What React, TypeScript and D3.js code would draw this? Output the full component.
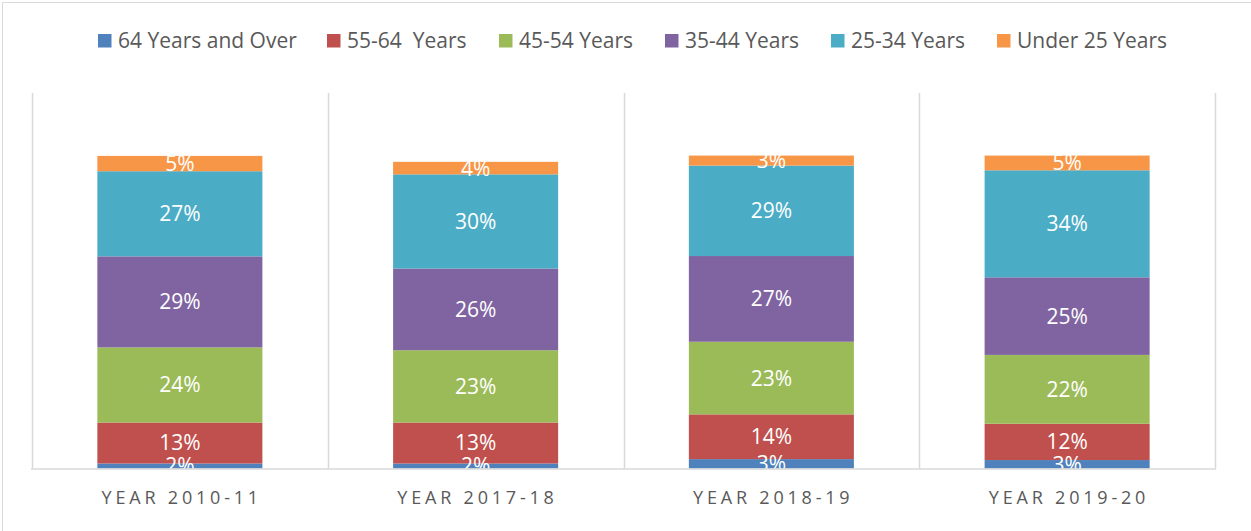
import React from "react";
import * as d3 from "d3";

const categories = ["YEAR 2010-11", "YEAR 2017-18", "YEAR 2018-19", "YEAR 2019-20"];
const seriesNames = ["64 Years and Over", "55-64  Years", "45-54 Years", "35-44 Years", "25-34 Years", "Under 25 Years"];
const seriesColors = ["#4F81BD", "#C0504D", "#9BBB59", "#8064A2", "#4BACC6", "#F79646"];
const over64 = [1.6, 1.6, 3.0, 2.7];
const age55to64 = [13.1, 13.1, 14.3, 11.6];
const age45to54 = [24.0, 23.1, 23.2, 22.0];
const age35to44 = [29.1, 26.1, 27.4, 24.8];
const age25to34 = [27.2, 30.1, 28.9, 34.2];
const under25 = [4.9, 4.0, 3.2, 4.7];
const seriesValues = [over64, age55to64, age45to54, age35to44, age25to34, under25];
const legendX = [98, 327, 499, 665, 831, 997];

const W = 1251;
const H = 531;
const FONT = "'Open Sans', sans-serif";

export default function App() {
  const x = d3.scaleBand<string>().domain(categories).range([32, 1215]).paddingInner(0.442).paddingOuter(0.221);
  const xCat = d3.scaleBand<string>().domain(categories).range([32, 1215]).padding(0);
  const y = d3.scaleLinear().domain([0, 120]).range([468.5, 93]);

  const rows = categories.map((c, i) => {
    const o: any = { cat: c };
    seriesNames.forEach((s, j) => (o[s] = seriesValues[j][i]));
    return o;
  });
  const stacked = d3.stack<any>().keys(seriesNames)(rows);

  const separators = categories.map((c) => xCat(c)!).concat([xCat.range()[1]]);

  return (
    <svg width={W} height={H} style={{ position: "absolute", left: 0, top: 0, background: "#fff" }}>
      <rect x={2.5} y={2.5} width={W + 5} height={H + 5} fill="#fff" stroke="#D9D9D9" strokeWidth={1} />
      {/* legend */}
      {seriesNames.map((s, j) => (
        <g key={s}>
          <rect x={legendX[j]} y={34} width={13.5} height={13.5} fill={seriesColors[j]} />
          <text x={legendX[j] + 20} y={47.5} fontFamily={FONT} fontSize={21} fill="#595959" style={{ whiteSpace: "pre" }}>
            {s}
          </text>
        </g>
      ))}
      {/* category separators */}
      {separators.map((sx, i) => (
        <line key={i} x1={Math.round(sx) + 0.5} x2={Math.round(sx) + 0.5} y1={93} y2={469} stroke="#D9D9D9" strokeWidth={1.5} />
      ))}
      {/* bars */}
      {stacked.map((layer, j) => (
        <g key={layer.key} fill={seriesColors[j]}>
          {layer.map((d, i) => (
            <rect key={i} x={x(categories[i])} width={x.bandwidth()} y={y(d[1])} height={y(d[0]) - y(d[1])} />
          ))}
        </g>
      ))}
      {/* labels */}
      {stacked.map((layer, j) => (
        <g key={layer.key + "l"}>
          {layer.map((d, i) => (
            <text
              key={i}
              x={x(categories[i])! + x.bandwidth() / 2}
              y={(y(d[0]) + y(d[1])) / 2 + 7.5}
              textAnchor="middle"
              fontFamily={FONT}
              fontSize={21}
              fill="#fff"
            >
              {Math.round(d[1] - d[0]) + "%"}
            </text>
          ))}
        </g>
      ))}
      {/* x axis */}
      <line x1={31} x2={1216} y1={469} y2={469} stroke="#D9D9D9" strokeWidth={1.5} />
      {categories.map((c) => (
        <text
          key={c}
          x={xCat(c)! + xCat.bandwidth() / 2 + 1.9}
          y={504}
          textAnchor="middle"
          fontFamily={FONT}
          fontSize={18}
          letterSpacing={3.8}
          fill="#595959"
        >
          {c}
        </text>
      ))}
    </svg>
  );
}
